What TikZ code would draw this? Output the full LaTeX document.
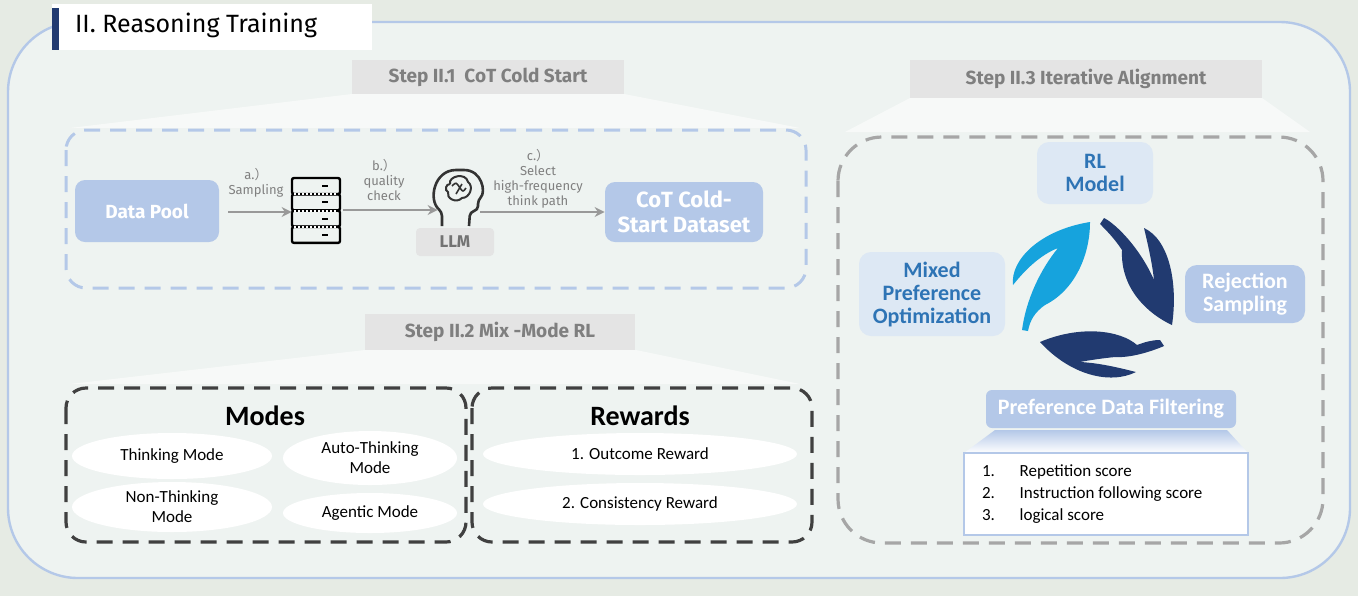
\documentclass[tikz,border=0pt]{standalone}
\usepackage{fontspec}
\setmainfont{Carlito}
\newfontfamily\plex{Fira Sans}
\newfontfamily\cjk{Noto Sans CJK SC}
\usetikzlibrary{arrows.meta,shapes.geometric}
\definecolor{bg}{HTML}{E6EBE4}
\definecolor{inner}{HTML}{EEF3F1}
\definecolor{lb}{HTML}{B4C8E8}
\definecolor{llb}{HTML}{DDE8F4}
\definecolor{tb}{HTML}{2E74B5}
\definecolor{navy}{HTML}{213A70}
\definecolor{sky}{HTML}{16A3DD}
\definecolor{stepg}{HTML}{E4E4E4}
\definecolor{stept}{HTML}{7F7F7F}
\tikzset{x=0.5pt,y=-0.5pt,
 steplbl/.style={fill=stepg,text=stept,font=\plex\bfseries\fontsize{9.5}{10}\selectfont},
 trap/.style={fill=white,fill opacity=0.55,draw=none},
 solid blue/.style={fill=lb,text=white,rounded corners=5pt,font=\plex\bfseries\fontsize{9.5}{11}\selectfont,align=center},
 arr/.style={draw=gray!80,line width=1.3pt,-{Stealth[length=5pt,width=5pt]}},
 lab/.style={text=gray,font=\plex\fontsize{6.5}{7.5}\selectfont,align=center},
 pill/.style={ellipse,fill=white,font=\fontsize{8.5}{10}\selectfont,align=center,inner sep=0pt},
 rbox/.style={rounded corners=6pt,align=center,font=\bfseries\fontsize{11}{11.5}\selectfont}
}
\newcommand{\rpar}{{\cjk ）}}
\begin{document}
\begin{tikzpicture}
\fill[bg] (0,0) rectangle (1358,596);
\draw[lb,line width=1.2pt,fill=inner,rounded corners=35pt] (8,22) rectangle (1350,578);
% title
\node[fill=white,minimum width=160pt,minimum height=23pt,anchor=north west,inner sep=0pt] (title) at (52,4) {};
\fill[navy] (52,8) rectangle (59,50);
\node[anchor=west,font=\fontsize{12.5}{14}\selectfont\plex] at (68,25) {II. Reasoning Training};
% step II.1
\fill[trap] (352,94) -- (624,94) -- (800,128) -- (70,128) -- cycle;
\node[steplbl,minimum width=136pt,minimum height=17pt] (s1) at (488,77) {Step II.1\ \ CoT Cold Start};
\draw[lb,line width=1.5pt,dash pattern=on 8pt off 5pt,fill=inner,rounded corners=10pt] (66,130) rectangle (806,288);
\node[solid blue,minimum width=72pt,minimum height=31pt] (dp) at (147,211) {Data Pool};
\node[solid blue,minimum width=79pt,minimum height=30pt,font=\plex\bfseries\fontsize{11}{12.5}\selectfont] (cot) at (684,212) {CoT Cold-\\Start Dataset};
% server
\node[minimum width=24pt,minimum height=32pt] (srv) at (316,211) {};
\foreach \i in {0,1,2,3}{
 \draw[black,line width=1.2pt,rounded corners=1pt] (292,178+\i*16.3) rectangle (340,194+\i*16.3);
 \fill[black] (322,185+\i*16.3) rectangle (328,187+\i*16.3);}
\foreach \i in {1,2,3}{\draw[white,line width=1pt,dash pattern=on 1pt off 1pt] (294,178+\i*16.3) -- (338,178+\i*16.3);}
% head
\node[minimum width=20pt,minimum height=24pt] (head) at (458,196) {};
\draw[black!80,line width=1.3pt,rounded corners=2pt] (442,226) -- (442,212) .. controls (428,200) and (434,170) .. (460,170) .. controls (482,170) and (486,192) .. (478,200) -- (478,210) -- (470,212) -- (469,226);
\draw[black!80,line width=1pt] (450,184) .. controls (448,176) and (466,172) .. (468,182) .. controls (474,186) and (470,198) .. (462,198) .. controls (456,204) and (446,198) .. (448,192) .. controls (444,190) and (446,184) .. (450,184);
\draw[black!80,line width=0.8pt] (452,186) .. controls (456,182) .. (460,188) .. controls (463,192) .. (466,188) (456,194) -- (462,184);
\node[fill=stepg,text=gray!90!black,minimum width=39pt,minimum height=14pt,rounded corners=2pt,font=\plex\bfseries\fontsize{8.5}{10}\selectfont] (llm) at (455,242) {LLM};
\coordinate (a1) at (228,212); \coordinate (a2) at (343,210); \coordinate (a3) at (480,212);
\draw[arr] (a1) -- (srv.west |- a1);
\draw[arr] (a2) -- (head.west |- a2);
\draw[arr] (a3) -- (cot.west |- a3);
\node[lab] at (256,183) {a.\rpar\\Sampling};
\node[lab] at (384,180) {b.\rpar\\quality\\check};
\node[lab] at (538,179) {c.\rpar\\Select\\high-frequency\\think path};
% step II.2
\fill[trap] (365,350) -- (636,350) -- (800,384) -- (70,384) -- cycle;
\node[steplbl,minimum width=135pt,minimum height=18pt] (s2) at (500,332) {Step II.2 Mix -Mode RL};
\draw[black!75,line width=1.6pt,dash pattern=on 8pt off 5pt,fill=inner,rounded corners=10pt] (66,388) rectangle (466,542);
\draw[black!75,line width=1.6pt,dash pattern=on 8pt off 5pt,fill=inner,rounded corners=10pt] (472,388) rectangle (812,542);
\node[font=\bfseries\fontsize{14}{16}\selectfont] (mt) at (265,416) {Modes};
\node[font=\bfseries\fontsize{14}{16}\selectfont] (rt) at (640,416) {Rewards};
\node[pill,minimum width=100pt,minimum height=23pt] (m1) at (172,456) {Thinking Mode};
\node[pill,minimum width=87pt,minimum height=27pt] (m2) at (370,458) {Auto-Thinking\\Mode};
\node[pill,minimum width=100pt,minimum height=25pt] (m3) at (172,507) {Non-Thinking\\Mode};
\node[pill,minimum width=87pt,minimum height=20pt] (m4) at (370,513) {Agentic Mode};
\node[pill,minimum width=157pt,minimum height=21pt] (r1) at (640,454) {1. Outcome Reward};
\node[pill,minimum width=157pt,minimum height=21pt] (r2) at (640,504) {2. Consistency Reward};
% step II.3
\fill[trap] (910,98) -- (1262,98) -- (1310,132) -- (845,132) -- cycle;
\node[steplbl,minimum width=176pt,minimum height=19pt] (s3) at (1086,79) {Step II.3 Iterative Alignment};
\draw[gray!70,line width=1.6pt,dash pattern=on 8pt off 5pt,fill=inner,rounded corners=22pt] (838,137) rectangle (1323,543);
\node[rbox,fill=llb,text=tb,minimum width=58pt,minimum height=31pt] (rl) at (1095,173) {RL\\Model};
\node[rbox,fill=llb,text=tb,minimum width=73pt,minimum height=42pt] (mpo) at (932,294) {Mixed\\Preference\\Optimization};
\node[rbox,fill=lb,text=white,minimum width=60pt,minimum height=29pt] (rs) at (1245,294) {Rejection\\Sampling};
\node[rbox,fill=lb,text=white,minimum width=125pt,minimum height=19pt,rounded corners=3pt] (pdf) at (1111,409) {Preference Data Filtering};
\shade[top color=lb,bottom color=white] (995,430) -- (1227,430) -- (1248,453) -- (964,453) -- cycle;
\node[draw=lb,line width=1.2pt,fill=white,minimum width=142pt,minimum height=41pt] (lst) at (1106,494) {};
\node[anchor=west,font=\fontsize{8.5}{11}\selectfont,align=left] at (975,494) {1.\quad\ \ Repetition score\\2.\quad\ \ Instruction following score\\3.\quad\ \ logical score};
% leaves
\fill[sky] (1090,222) .. controls (1040,230) and (1010,260) .. (1013,285) .. controls (1025,270) and (1040,255) .. (1058,248) .. controls (1040,270) and (1026,300) .. (1022,330) -- (1028,331) .. controls (1030,320) and (1035,312) .. (1045,305) .. controls (1075,290) and (1090,255) .. cycle;
\fill[navy] (1104,218) .. controls (1116,224) and (1140,248) .. (1154,280) .. controls (1152,262) and (1148,245) .. (1144,228) .. controls (1170,240) and (1178,285) .. (1172,325) .. controls (1150,315) and (1120,290) .. (1122,250) .. controls (1114,238) and (1106,230) .. (1100,224) -- cycle;
\fill[navy] (1040,342) .. controls (1080,325) and (1120,330) .. (1137,345) .. controls (1145,342) and (1152,340) .. (1160,340) -- (1164,346) .. controls (1150,352) and (1130,358) .. (1115,357) .. controls (1105,358) and (1090,360) .. (1080,362) .. controls (1100,363) and (1120,368) .. (1136,372) .. controls (1110,385) and (1070,375) .. cycle;
\end{tikzpicture}
\end{document}
